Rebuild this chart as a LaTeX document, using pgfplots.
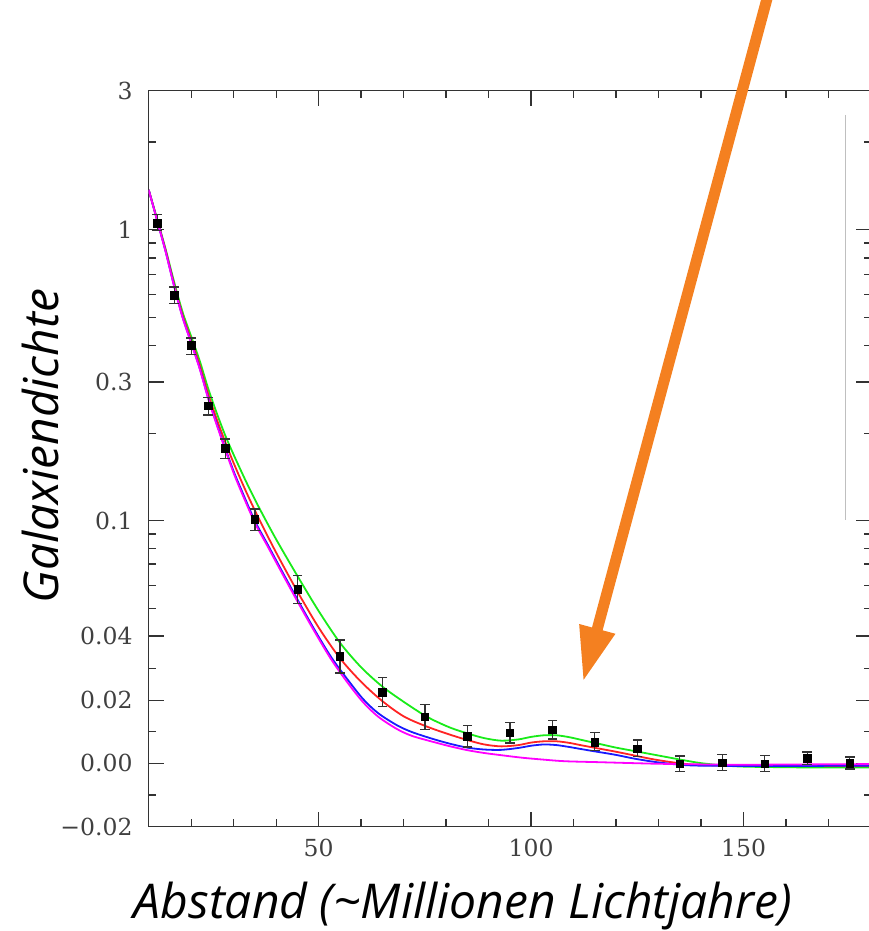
\documentclass[border=0pt]{standalone}
\usepackage{fontspec}
\setmainfont{DejaVu Serif}
\newfontfamily\osans{Open Sans}
\usepackage{pgfplots}
\pgfplotsset{compat=1.18}
\usetikzlibrary{arrows.meta}
\definecolor{arroworange}{RGB}{244,128,32}
\definecolor{cgreen}{RGB}{25,235,25}
\definecolor{cred}{RGB}{255,35,35}
\definecolor{cblue}{RGB}{25,25,255}
\definecolor{cmag}{RGB}{255,0,255}
\pgfplotsset{ebar/.style={black!80, line width=1.3pt, mark=-, mark size=4.8pt, mark options={line width=1.3pt, solid}}}
\newcommand{\eb}[3]{\addplot[ebar] coordinates {(#1,#2) (#1,#3)};}
\begin{document}
\begin{tikzpicture}
\begin{axis}[
  name=ax, scale only axis, width=722.3pt, height=736pt,
  xmin=10, xmax=180, ymin=-0.02, ymax=3,
  y coord trafo/.code={\pgfmathparse{(#1>=0.04) ? ln(max(#1,0.04))/2.302585 : -1.39794+(#1-0.04)*10.8574}},
  xtick={50,100,150}, xticklabels={50,100,150},
  minor xtick={20,30,40,60,70,80,90,110,120,130,140,160,170},
  ytick={-0.02,0,0.02,0.04,0.1,0.3,1,3},
  yticklabels={−0.02,0.00,0.02,0.04,0.1,0.3,1,3},
  minor ytick={-0.01,0.01,0.03,0.05,0.06,0.07,0.08,0.09,0.2,0.4,0.5,0.6,0.7,0.8,0.9,2},
  tick align=inside, major tick length=15pt, minor tick length=7.5pt,
  axis line style={black!80, line width=1.5pt},
  tick style={black!80, line width=1.3pt},
  every tick label/.append style={font=\fontsize{23.5}{28}\selectfont, text=black!75, inner sep=0pt},
  yticklabel style={xshift=-16pt},
  xticklabel style={yshift=-12pt},
  xlabel={\osans\itshape Abstand (\textasciitilde Millionen Lichtjahre)},
  ylabel={\osans\itshape Galaxiendichte},
  xlabel style={at={(axis description cs:0.435,-0.125)}, anchor=base, font=\fontsize{48}{56}\selectfont},
  ylabel style={at={(axis description cs:-0.1242,0.517)}, anchor=base, font=\fontsize{48}{56}\selectfont},
]
% green model
\addplot[cgreen, line width=1.8pt, smooth] coordinates {
(10,1.37) (12,1.085) (14,0.855) (16,0.66) (18,0.52) (20,0.43) (22,0.355) (24,0.285) (26,0.235) (28,0.197) (30,0.1688) (33,0.1358) (36,0.1110) (40,0.0865) (45,0.0648) (50,0.0491) (55,0.0382) (60,0.0304) (65,0.0243) (70,0.0195) (75,0.0151) (77,0.0137) (81,0.0113) (85,0.0095) (89,0.0080) (93,0.0072) (97,0.0076) (100,0.0084) (103,0.0089) (106,0.0089) (109,0.0083) (112,0.0074) (116,0.0062) (120,0.0050) (124,0.0040) (128,0.0030) (132,0.0020) (136,0.0010) (140,0.0001) (145,-0.0006) (150,-0.0010) (160,-0.0012) (170,-0.0013) (180,-0.0013)};
% red model
\addplot[cred, line width=1.8pt, smooth] coordinates {
(10,1.37) (12,1.08) (14,0.848) (16,0.648) (18,0.508) (20,0.418) (22,0.343) (24,0.273) (26,0.224) (28,0.187) (30,0.158) (33,0.1254) (36,0.1014) (40,0.0779) (45,0.0573) (50,0.0431) (55,0.0333) (60,0.0258) (65,0.0197) (70,0.0149) (75,0.0119) (80,0.0095) (85,0.0074) (89,0.0060) (93,0.0054) (97,0.0058) (100,0.0066) (103,0.0070) (106,0.0070) (109,0.0065) (112,0.0057) (116,0.0047) (120,0.0037) (124,0.0026) (128,0.0015) (132,0.0006) (136,-0.0001) (140,-0.0005) (150,-0.0008) (160,-0.0008) (180,-0.0008)};
% blue model
\addplot[cblue, line width=1.8pt, smooth] coordinates {
(10,1.37) (12,1.075) (14,0.84) (16,0.64) (18,0.50) (20,0.41) (22,0.335) (24,0.265) (26,0.216) (28,0.178) (30,0.148) (32,0.126) (35,0.100) (38,0.0830) (41,0.0688) (45,0.0538) (49,0.0424) (53,0.0335) (57,0.0262) (60.5,0.0203) (64,0.0159) (68.4,0.0121) (72,0.0099) (77,0.0077) (81,0.0062) (85,0.0050) (89,0.0044) (93,0.0043) (97,0.0049) (100,0.0056) (103,0.0060) (106,0.0058) (109,0.0052) (112,0.0045) (116,0.0036) (120,0.0027) (124,0.0016) (128,0.0007) (132,0.0000) (136,-0.0005) (140,-0.0007) (150,-0.0008) (160,-0.0008) (180,-0.0007)};
% magenta model
\addplot[cmag, line width=1.8pt, smooth] coordinates {
(10,1.37) (12,1.073) (14,0.838) (16,0.638) (18,0.498) (20,0.408) (22,0.333) (24,0.263) (26,0.214) (28,0.176) (30,0.146) (32,0.124) (35,0.0985) (38,0.0818) (41,0.0678) (45,0.0530) (49,0.0418) (53,0.0328) (57,0.0252) (60.5,0.0193) (64,0.0148) (68.4,0.0109) (72,0.0087) (77,0.0068) (81,0.0054) (85,0.0042) (89,0.0033) (93,0.0026) (98,0.0018) (103,0.0012) (108,0.0007) (116,0.0004) (124,0.0001) (130,-0.0001) (140,-0.0003) (150,-0.0004) (165,-0.0003) (180,-0.0002)};
% error bars
\eb{12}{0.994}{1.126}
\eb{16}{0.557}{0.635}
\eb{20}{0.372}{0.425}
\eb{24}{0.231}{0.266}
\eb{28}{0.164}{0.191}
\eb{35}{0.0930}{0.110}
\eb{45}{0.0522}{0.0650}
\eb{55}{0.0286}{0.039}
\eb{65}{0.0179}{0.0272}
\eb{75}{0.0107}{0.0186}
\eb{85}{0.0052}{0.0121}
\eb{95}{0.0065}{0.0129}
\eb{105}{0.0077}{0.0135}
\eb{115}{0.0042}{0.0097}
\eb{125}{0.0021}{0.0074}
\eb{135}{-0.0026}{0.0024}
\eb{145}{-0.0022}{0.0028}
\eb{155}{-0.0025}{0.0025}
\eb{165}{-0.0004}{0.0036}
\eb{175}{-0.0018}{0.0020}
% data points
\addplot[only marks, mark=square*, mark size=3.7pt, black] coordinates {
(12,1.054) (16,0.596) (20,0.401) (24,0.249) (28,0.178) (35,0.1014) (45,0.0584) (55,0.0339) (65,0.0225) (75,0.0147) (85,0.0086) (95,0.0098) (105,0.0107) (115,0.0067) (125,0.0047) (135,-0.0001) (145,0.0003) (155,0.0000) (165,0.0017) (175,0.0001)};
\end{axis}
\begin{scope}[shift={(ax.south west)}, xshift=-148.7pt, yshift=826.7pt, x=1pt, y=-1pt]
  \draw[black!25, line width=0.8pt] (845,115) -- (845,520);
  \draw[arroworange, line width=11pt, -{Triangle[length=55pt,width=34pt]}] (768,-5) -- (583,682);
  \pgfresetboundingbox
  \path[use as bounding box] (0,0) rectangle (869,931);
\end{scope}
\end{tikzpicture}
\end{document}
